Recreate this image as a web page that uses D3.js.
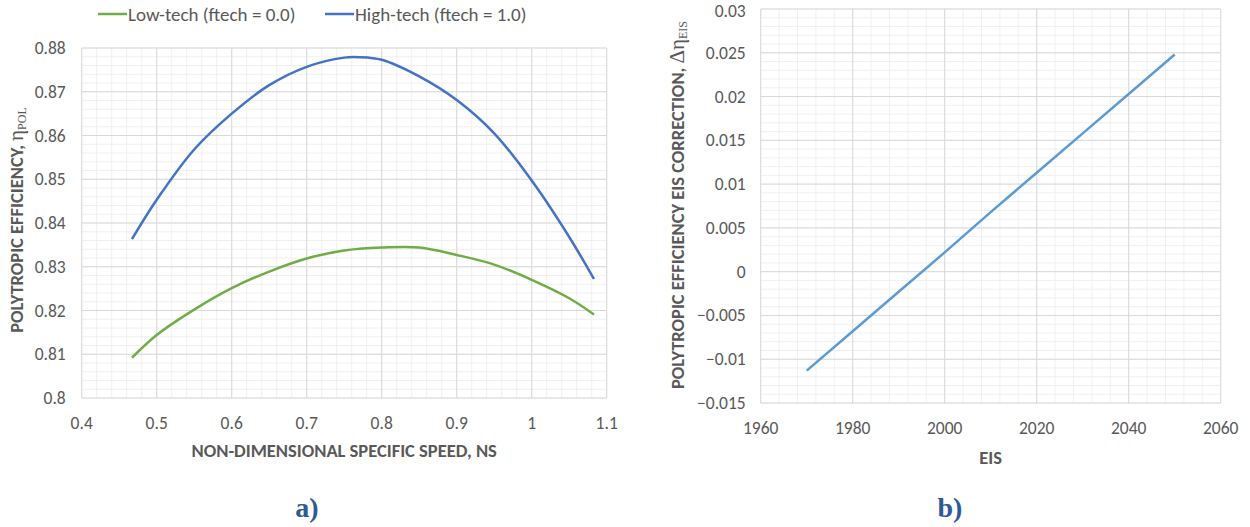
<!DOCTYPE html>
<html>
<head>
<meta charset="utf-8">
<script src="https://cdn.jsdelivr.net/npm/d3@7"></script>
<style>
  body { margin: 0; background: #fff; }
  svg { display: block; }
  text { font-family: Carlito, Lato, sans-serif; }
</style>
</head>
<body>
<svg id="chart" width="1250" height="527"></svg>
<script>
// ---- data ----
let ns_values = [0.467, 0.5, 0.55, 0.6, 0.65, 0.7, 0.75, 0.77, 0.8, 0.85, 0.9, 0.95, 1.0, 1.05, 1.083];
let eta_low = [0.8092, 0.8144, 0.8202, 0.8251, 0.8289, 0.8319, 0.8337, 0.8341, 0.8344, 0.8344, 0.8327, 0.8305, 0.8270, 0.8228, 0.8191];
let eta_high = [0.8363, 0.8453, 0.8568, 0.8650, 0.8715, 0.8757, 0.8778, 0.8779, 0.8773, 0.8735, 0.8681, 0.8605, 0.8497, 0.8368, 0.8272];
let series_names = ['Low-tech (ftech = 0.0)', 'High-tech (ftech = 1.0)'];
let series_colors = ['#70ad47', '#4472c4'];

let eis_years = [1970, 1980, 1990, 2000, 2010, 2020, 2030, 2040, 2050];
let eis_corr = [-0.0113, -0.0068, -0.0023, 0.0022, 0.0068, 0.0113, 0.0158, 0.0203, 0.0248];

let ticks_ns = [0.4, 0.5, 0.6, 0.7, 0.8, 0.9, 1.0, 1.1];
let ticks_eta = [0.8, 0.81, 0.82, 0.83, 0.84, 0.85, 0.86, 0.87, 0.88];
let ticks_eis = [1960, 1980, 2000, 2020, 2040, 2060];
let ticks_corr = [-0.015, -0.01, -0.005, 0, 0.005, 0.01, 0.015, 0.02, 0.025, 0.03];

let svg = d3.select('#chart');
let grid_major = '#d9d9d9', grid_minor = '#f0f0f0', txt = '#595959';

function drawPanel(x, y, xticks, yticks, xminor, yminor, ygap) {
    let g = svg.append('g');
    let [x0, x1] = x.domain(), [y0, y1] = y.domain();
    // minor grid
    g.append('g').selectAll('line').data(d3.range(x0, x1 + 1e-9, xminor)).enter()
        .append('line')
        .attr('x1', d => x(d)).attr('x2', d => x(d))
        .attr('y1', y(y0)).attr('y2', y(y1))
        .attr('stroke', grid_minor).attr('stroke-width', 1);
    g.append('g').selectAll('line').data(d3.range(y0, y1 + 1e-9, yminor)).enter()
        .append('line')
        .attr('y1', d => y(d)).attr('y2', d => y(d))
        .attr('x1', x(x0)).attr('x2', x(x1))
        .attr('stroke', grid_minor).attr('stroke-width', 1);
    // major grid
    g.append('g').selectAll('line').data(xticks).enter()
        .append('line')
        .attr('x1', d => x(d)).attr('x2', d => x(d))
        .attr('y1', y(y0)).attr('y2', y(y1))
        .attr('stroke', grid_major).attr('stroke-width', 1);
    g.append('g').selectAll('line').data(yticks).enter()
        .append('line')
        .attr('y1', d => y(d)).attr('y2', d => y(d))
        .attr('x1', x(x0)).attr('x2', x(x1))
        .attr('stroke', grid_major).attr('stroke-width', 1);
    // tick labels
    g.append('g').selectAll('text').data(xticks).enter()
        .append('text')
        .attr('x', d => x(d))
        .attr('y', y(y0) + 30.5)
        .attr('text-anchor', 'middle')
        .attr('font-size', 17.5)
        .attr('fill', txt)
        .text(d => d3.format('')(+d.toFixed(4)));
    g.append('g').selectAll('text').data(yticks).enter()
        .append('text')
        .attr('x', x(x0) - ygap)
        .attr('y', d => Math.max(y(d) + 6, 17))   // keep top label inside the page
        .attr('text-anchor', 'end')
        .attr('font-size', 17.5)
        .attr('fill', txt)
        .text(d => d3.format('')(+d.toFixed(4)));
    return g;
}

// ---- panel a ----
let xa = d3.scaleLinear().domain([0.4, 1.1]).range([81.7, 606.7]);
let ya = d3.scaleLinear().domain([0.8, 0.88]).range([398, 48]);
let ga = drawPanel(xa, ya, ticks_ns, ticks_eta, 0.02, 0.002, 16);

let line_a = d3.line()
    .x(d => xa(d[0]))
    .y(d => ya(d[1]))
    .curve(d3.curveCatmullRom);
[eta_low, eta_high].forEach((vals, i) => {
    ga.append('path')
        .attr('d', line_a(ns_values.map((v, j) => [v, vals[j]])))
        .attr('fill', 'none')
        .attr('stroke', series_colors[i])
        .attr('stroke-width', 2.5);
});

// legend
let leg_x = [98, 325];
series_names.forEach((name, i) => {
    ga.append('line')
        .attr('x1', leg_x[i]).attr('x2', leg_x[i] + 29)
        .attr('y1', 14).attr('y2', 14)
        .attr('stroke', series_colors[i]).attr('stroke-width', 2.5);
    ga.append('text')
        .attr('x', leg_x[i] + 30).attr('y', 20.5)
        .attr('font-size', 19).attr('fill', txt)
        .text(name);
});

ga.append('text')
    .attr('x', (xa(0.4) + xa(1.1)) / 2).attr('y', 456.5)
    .attr('text-anchor', 'middle')
    .attr('font-size', 18.5).attr('font-weight', 'bold').attr('fill', txt)
    .text('NON-DIMENSIONAL SPECIFIC SPEED, NS');

let ta = ga.append('text')
    .attr('transform', 'translate(22.5,220) rotate(-90)')
    .attr('text-anchor', 'middle')
    .attr('font-size', 18.5).attr('font-weight', 'bold').attr('fill', txt);
ta.append('tspan').text('POLYTROPIC EFFICIENCY, ');
ta.append('tspan').attr('font-family', 'Liberation Serif').attr('font-weight', 'normal').attr('font-size', 21).text('η');
ta.append('tspan').attr('font-family', 'Liberation Serif').attr('font-weight', 'normal').attr('font-size', 12).attr('dy', 3).text('POL');

// ---- panel b ----
let xb = d3.scaleLinear().domain([1960, 2060]).range([760.7, 1220.7]);
let yb = d3.scaleLinear().domain([-0.015, 0.03]).range([403, 9]);
let gb = drawPanel(xb, yb, ticks_eis, ticks_corr, 4, 0.001, 15);

let line_b = d3.line()
    .x(d => xb(d[0]))
    .y(d => yb(d[1]));
gb.append('path')
    .attr('d', line_b(eis_years.map((v, j) => [v, eis_corr[j]])))
    .attr('fill', 'none')
    .attr('stroke', '#5b9bd5')
    .attr('stroke-width', 2.5);

gb.append('text')
    .attr('x', (xb(1960) + xb(2060)) / 2).attr('y', 463.5)
    .attr('text-anchor', 'middle')
    .attr('font-size', 18.5).attr('font-weight', 'bold').attr('fill', txt)
    .text('EIS');

let tb = gb.append('text')
    .attr('transform', 'translate(683.5,205) rotate(-90)')
    .attr('text-anchor', 'middle')
    .attr('font-size', 18.5).attr('font-weight', 'bold').attr('fill', txt);
tb.append('tspan').text('POLYTROPIC EFFICIENCY EIS CORRECTION, ');
tb.append('tspan').attr('font-family', 'Liberation Serif').attr('font-weight', 'normal').attr('font-size', 21).text('Δη');
tb.append('tspan').attr('font-family', 'Liberation Serif').attr('font-weight', 'normal').attr('font-size', 12).attr('dy', 3).text('EIS');

// captions
let captions = ['a)', 'b)'];
let cap_x = [307, 950];
svg.append('g').selectAll('text').data(captions).enter()
    .append('text')
    .attr('x', (d, i) => cap_x[i])
    .attr('y', 517)
    .attr('text-anchor', 'middle')
    .style('font-family', '"Liberation Serif", serif')
    .attr('font-weight', 'bold')
    .attr('font-size', 28)
    .attr('fill', '#2e5a94')
    .text(d => d);
</script>
</body>
</html>
